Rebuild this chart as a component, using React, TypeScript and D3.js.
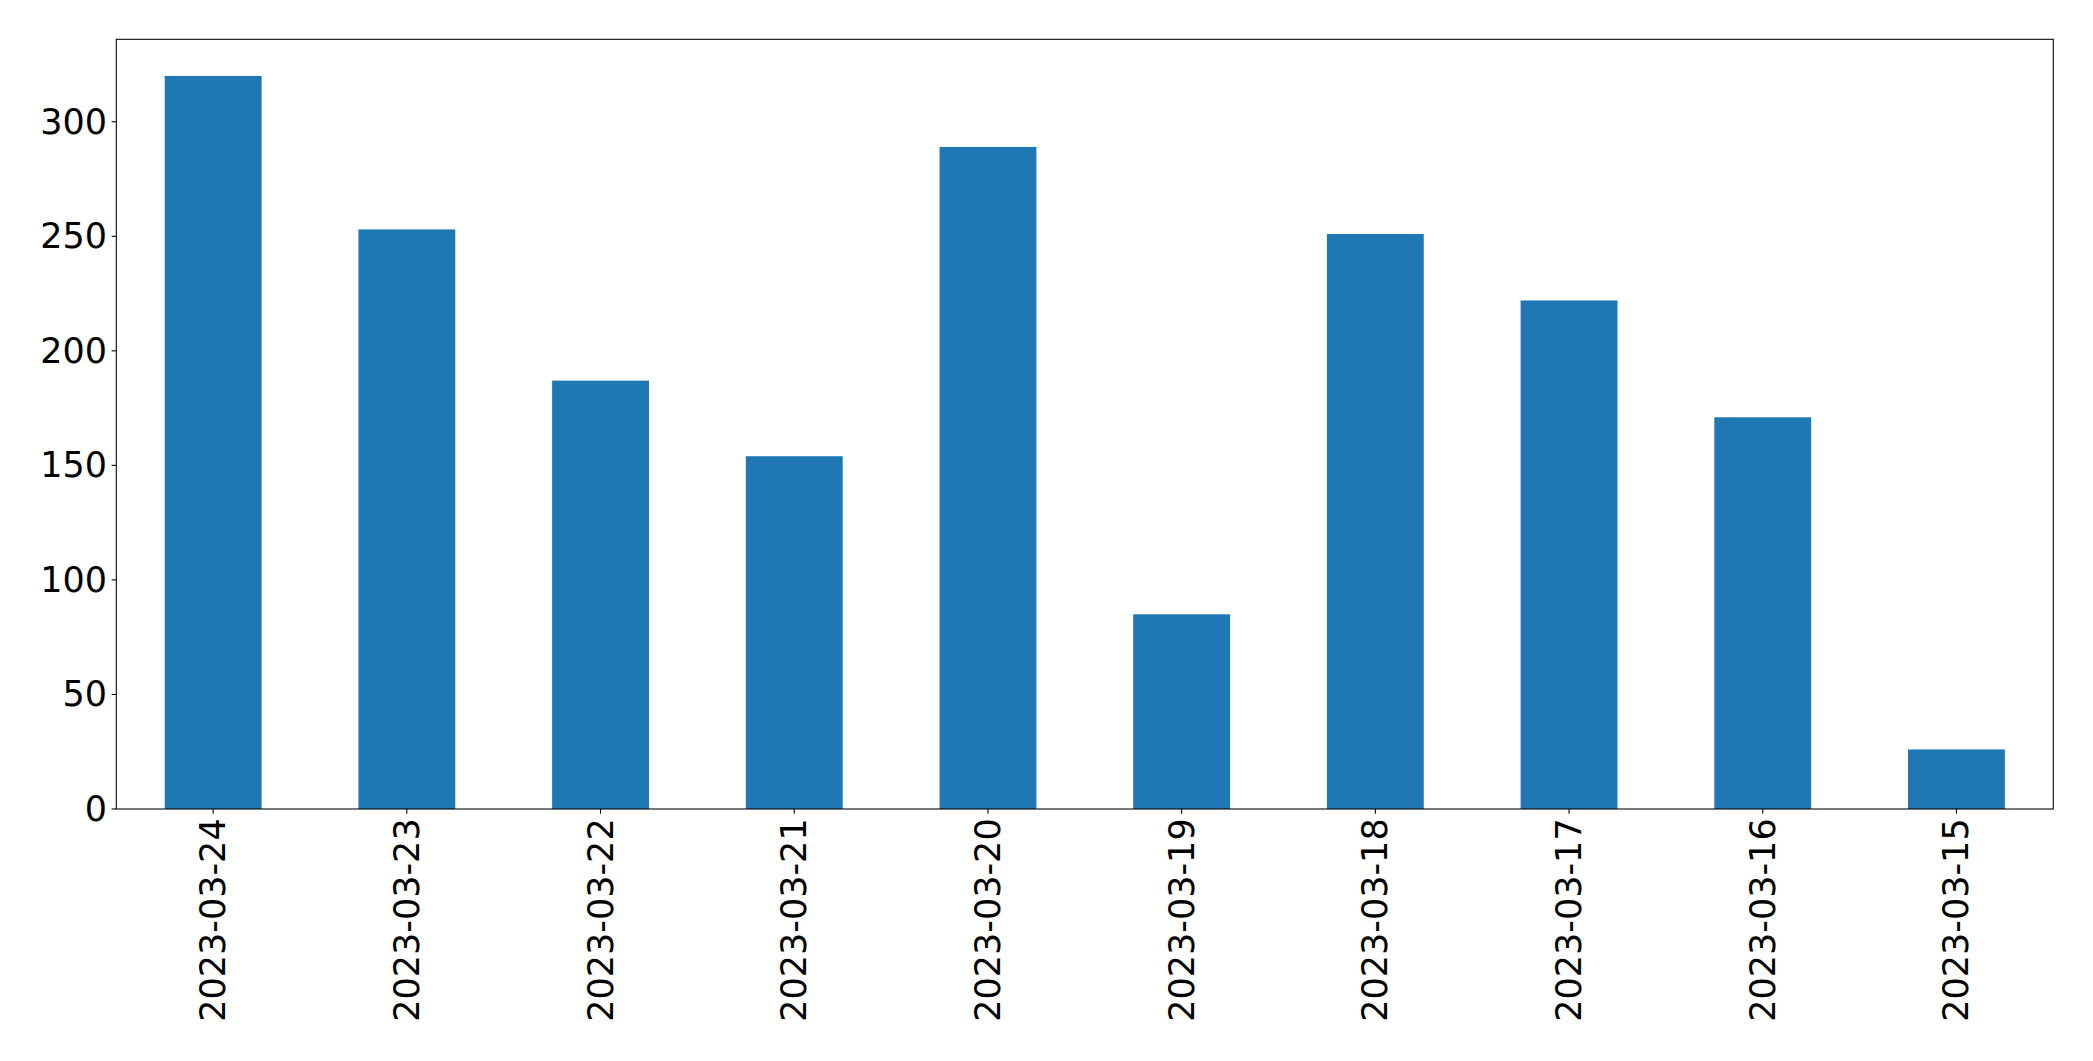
import React, { useEffect, useRef } from 'react';
import * as d3 from 'd3';

const dates = [
  '2023-03-24', '2023-03-23', '2023-03-22', '2023-03-21', '2023-03-20',
  '2023-03-19', '2023-03-18', '2023-03-17', '2023-03-16', '2023-03-15',
];
const counts = [320, 253, 187, 154, 289, 85, 251, 222, 171, 26];
const yTicks = [0, 50, 100, 150, 200, 250, 300];

const W = 2093;
const H = 1061;
const margin = { top: 39.3, right: 2093 - 2053.3, bottom: 1061 - 809, left: 116.3 };

const App: React.FC = () => {
  const svgRef = useRef<SVGSVGElement>(null);

  useEffect(() => {
    if (!svgRef.current) return;
    const svg = d3.select(svgRef.current);
    svg.selectAll('*').remove();

    const iw = W - margin.left - margin.right;
    const ih = H - margin.top - margin.bottom;

    // matplotlib-like: band centers, bar width 0.5, 5% y margin
    const x = d3.scaleLinear().domain([-0.5, dates.length - 0.5]).range([0, iw]);
    const yMax = d3.max(counts)! * 1.05;
    const y = d3.scaleLinear().domain([0, yMax]).range([ih, 0]);

    const g = svg.append('g').attr('transform', `translate(${margin.left},${margin.top})`);

    g.selectAll('rect.bar')
      .data(counts)
      .join('rect')
      .attr('class', 'bar')
      .attr('x', (_, i) => x(i - 0.25))
      .attr('width', x(0.25) - x(-0.25))
      .attr('y', d => y(d))
      .attr('height', d => y(0) - y(d))
      .attr('fill', '#1f77b4');

    const fontSize = 35;
    const tickLen = 4.67;
    const pad = 4.67;

    // y axis ticks
    const yg = g.append('g');
    yTicks.forEach(t => {
      yg.append('line')
        .attr('x1', -tickLen).attr('x2', 0)
        .attr('y1', y(t)).attr('y2', y(t))
        .attr('stroke', '#000').attr('stroke-width', 1.07);
      yg.append('text')
        .attr('x', -tickLen - pad)
        .attr('y', y(t))
        .attr('text-anchor', 'end')
        .attr('dominant-baseline', 'central')
        .attr('font-family', 'DejaVu Sans')
        .attr('font-size', fontSize)
        .attr('fill', '#000')
        .text(t);
    });

    // x axis ticks
    const xg = g.append('g');
    dates.forEach((d, i) => {
      xg.append('line')
        .attr('x1', x(i)).attr('x2', x(i))
        .attr('y1', ih).attr('y2', ih + tickLen)
        .attr('stroke', '#000').attr('stroke-width', 1.07);
      xg.append('text')
        .attr('transform', `translate(${x(i)},${ih + tickLen + pad}) rotate(-90)`)
        .attr('text-anchor', 'end')
        .attr('dominant-baseline', 'central')
        .attr('font-family', 'DejaVu Sans')
        .attr('font-size', fontSize)
        .attr('fill', '#000')
        .text(d);
    });

    // spines
    g.append('rect')
      .attr('x', 0).attr('y', 0)
      .attr('width', iw).attr('height', ih)
      .attr('fill', 'none')
      .attr('stroke', '#000')
      .attr('stroke-width', 1.07);
  }, []);

  return (
    <svg
      ref={svgRef}
      width={W}
      height={H}
      style={{ position: 'absolute', left: 0, top: 0, background: '#fff' }}
    />
  );
};

export default App;
